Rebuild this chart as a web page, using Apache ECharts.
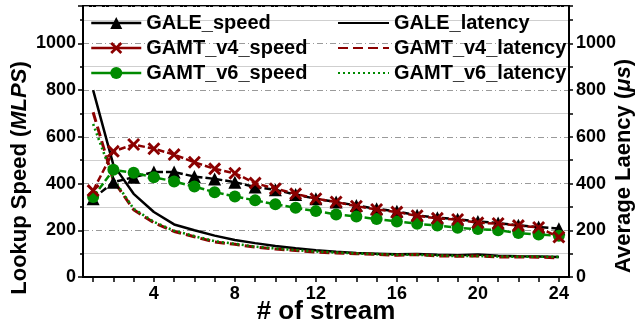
<!DOCTYPE html>
<html><head><meta charset="utf-8">
<script src="https://cdn.jsdelivr.net/npm/echarts@6/dist/echarts.min.js"></script>
<style>html,body{margin:0;padding:0;background:#fff}#c{width:637px;height:331px}</style>
</head><body><div id="c"></div>
<script>
const streams = ['1','2','3','4','5','6','7','8','9','10','11','12','13','14','15','16','17','18','19','20','21','22','23','24'];
const leftTicks = [0, 200, 400, 600, 800, 1000];
const rightTicks = [0, 200, 400, 600, 800, 1000];
const galeSpeed   = [335, 406, 427, 449, 449, 430, 420, 406, 385, 373, 353, 335, 321, 306, 292, 281, 264, 254, 247, 238, 231, 221, 214, 207];
const gamtV4Speed = [370, 538, 567, 549, 524, 491, 463, 444, 402, 378, 356, 335, 321, 303, 289, 278, 262, 251, 246, 232, 229, 220, 212, 171];
const gamtV6Speed = [342, 459, 446, 427, 409, 387, 363, 345, 328, 311, 296, 282, 268, 259, 248, 238, 228, 220, 211, 205, 200, 188, 182, 177];
const galeLatency   = [800, 480, 356, 278, 225, 200, 177, 158, 145, 133, 123, 115, 108, 103, 100, 97, 98, 95, 93, 96, 91, 89, 88, 86];
const gamtV4Latency = [705, 413, 288, 232, 195, 172, 150, 140, 128, 120, 113, 107, 103, 100, 97, 93, 96, 90, 89, 90, 86, 86, 85, 82];
const gamtV6Latency = [655, 420, 292, 236, 198, 175, 153, 142, 130, 122, 115, 109, 105, 101, 98, 95, 95, 92, 90, 90, 88, 87, 87, 86];

const FF = '"Liberation Sans", Arial, sans-serif';
const BLACK = '#000000', RED = '#8B0000', GREEN = '#008a00';
const XPATH = 'path://M0,1.6 L1.6,0 L5,3.4 L8.4,0 L10,1.6 L6.6,5 L10,8.4 L8.4,10 L5,6.6 L1.6,10 L0,8.4 L3.4,5 Z';
const YMAX = 1160;

const chart = echarts.init(document.getElementById('c'), null, {renderer: 'canvas'});
const lblFmt = ticks => v => (ticks.indexOf(v) >= 0 ? String(v) : '');

chart.setOption({
  animation: false,
  backgroundColor: '#fff',
  textStyle: {fontFamily: FF},
  grid: {left: 83, right: 68, top: 6, bottom: 54, show: true, borderColor: BLACK, borderWidth: 2, backgroundColor: 'transparent', outerBoundsMode: 'none', containLabel: false},
  xAxis: {
    type: 'category', data: streams, boundaryGap: true,
    name: '# of stream', nameLocation: 'middle', nameGap: 22, nameMoveOverlap: false,
    nameTextStyle: {fontFamily: FF, fontWeight: 'bold', fontSize: 26, color: BLACK, verticalAlign: 'top'},
    axisLine: {show: true, lineStyle: {color: BLACK, width: 2}},
    axisTick: {show: true, inside: false, length: 5, alignWithLabel: true, interval: 0, lineStyle: {color: BLACK, width: 1.5}},
    axisLabel: {interval: (i, v) => (+v) % 4 === 0, margin: 8, fontFamily: FF, fontWeight: 'bold', fontSize: 18, color: BLACK},
    splitLine: {show: false}
  },
  yAxis: [
    {
      type: 'value', position: 'left', min: 0, max: YMAX, interval: 200,
      axisLine: {show: true, lineStyle: {color: BLACK, width: 2}},
      axisTick: {show: true, inside: false, length: 5, lineStyle: {color: BLACK, width: 1.5}},
      axisLabel: {formatter: lblFmt(leftTicks), margin: 7, fontFamily: FF, fontWeight: 'bold', fontSize: 18, color: BLACK},
      splitLine: {show: true, lineStyle: {color: '#9a9a9a', width: 1, type: [6, 3, 1, 3]}}
    },
    {
      type: 'value', position: 'left', min: 0, max: YMAX, interval: 100,
      axisLine: {show: false},
      axisTick: {show: true, inside: false, length: 3, lineStyle: {color: BLACK, width: 1.5}},
      axisLabel: {show: false},
      splitLine: {show: true, lineStyle: {color: ['rgba(0,0,0,0)', '#cfcfcf'], width: 1, type: 'solid'}}
    },
    {
      type: 'value', position: 'right', min: 0, max: YMAX, interval: 100,
      axisLine: {show: true, lineStyle: {color: BLACK, width: 2}},
      axisTick: {show: true, inside: false, length: 4, lineStyle: {color: BLACK, width: 1.5}},
      axisLabel: {formatter: lblFmt(rightTicks), margin: 7, fontFamily: FF, fontWeight: 'bold', fontSize: 18, color: BLACK},
      splitLine: {show: false}
    }
  ],
  legend: [
    {
      orient: 'vertical', left: 90, top: 13, itemWidth: 50, itemHeight: 15, itemGap: 5,
      padding: 0, selectedMode: false, backgroundColor: 'transparent',
      lineStyle: {type: 'solid', width: 2.5},
      textStyle: {fontFamily: FF, fontWeight: 'bold', fontSize: 20, color: BLACK},
      data: ['GALE_speed', 'GAMT_v4_speed', 'GAMT_v6_speed']
    },
    {
      orient: 'vertical', left: 337, top: 13, itemWidth: 51, itemHeight: 15, itemGap: 5,
      padding: 0, selectedMode: false, backgroundColor: 'transparent',
      textStyle: {fontFamily: FF, fontWeight: 'bold', fontSize: 20, color: BLACK},
      data: [
        {name: 'GALE_latency', itemStyle: {opacity: 0}},
        {name: 'GAMT_v4_latency', itemStyle: {opacity: 0}},
        {name: 'GAMT_v6_latency', itemStyle: {opacity: 0}}
      ]
    }
  ],
  graphic: [
    {type: 'text', x: 20, y: 178, rotation: Math.PI / 2,
     style: {text: '{a|Lookup Speed (}{b|MLPS}{a|)}', align: 'center', verticalAlign: 'middle', fill: BLACK,
       rich: {a: {fontFamily: FF, fontWeight: 'bold', fontSize: 22, fill: BLACK}, b: {fontFamily: FF, fontWeight: 'bold', fontStyle: 'italic', fontSize: 22, fill: BLACK}}}},
    {type: 'text', x: 624, y: 166, rotation: Math.PI / 2,
     style: {text: '{a|Average Laency (}{b|\u03bcs}{a|)}', align: 'center', verticalAlign: 'middle', fill: BLACK,
       rich: {a: {fontFamily: FF, fontWeight: 'bold', fontSize: 22, fill: BLACK}, b: {fontFamily: FF, fontWeight: 'bold', fontStyle: 'italic', fontSize: 22, fill: BLACK}}}}
  ],
  series: [
    {name: 'GALE_latency', type: 'line', yAxisIndex: 2, data: galeLatency, symbol: 'none',
     lineStyle: {color: BLACK, width: 2.5, type: 'solid'}, itemStyle: {color: BLACK}, z: 2},
    {name: 'GAMT_v4_latency', type: 'line', yAxisIndex: 2, data: gamtV4Latency, symbol: 'none',
     lineStyle: {color: RED, width: 3, type: [10, 5]}, itemStyle: {color: RED}, z: 2},
    {name: 'GAMT_v6_latency', type: 'line', yAxisIndex: 2, data: gamtV6Latency, symbol: 'none',
     lineStyle: {color: GREEN, width: 2.6, type: [2, 3]}, itemStyle: {color: GREEN}, z: 2},
    {name: 'GALE_speed', type: 'line', yAxisIndex: 0, data: galeSpeed, symbol: 'triangle', symbolSize: 13,
     lineStyle: {color: BLACK, width: 2.5, type: [7, 3]}, itemStyle: {color: BLACK}, z: 3},
    {name: 'GAMT_v4_speed', type: 'line', yAxisIndex: 0, data: gamtV4Speed, symbol: XPATH, symbolSize: 13,
     lineStyle: {color: RED, width: 2.5, type: [7, 3]}, itemStyle: {color: RED}, z: 4},
    {name: 'GAMT_v6_speed', type: 'line', yAxisIndex: 0, data: gamtV6Speed, symbol: 'circle', symbolSize: 12,
     lineStyle: {color: GREEN, width: 2.5, type: [7, 3]}, itemStyle: {color: GREEN}, z: 3}
  ]
});
</script>
</body></html>
